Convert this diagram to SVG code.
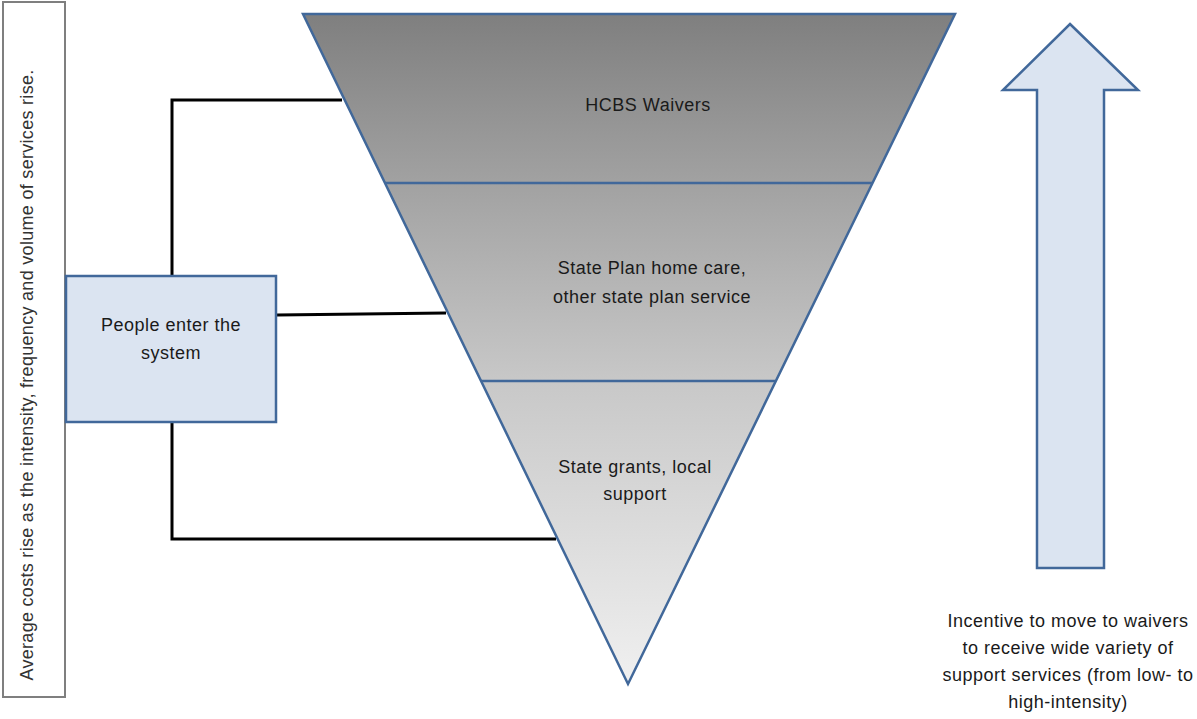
<svg xmlns="http://www.w3.org/2000/svg" width="1197" height="719" viewBox="0 0 1197 719">
<defs>
<linearGradient id="tri" gradientUnits="userSpaceOnUse" x1="0" y1="14" x2="0" y2="684">
<stop offset="0" stop-color="#7f7f7f"/>
<stop offset="0.3" stop-color="#a8a8a8"/>
<stop offset="0.55" stop-color="#c8c8c8"/>
<stop offset="1" stop-color="#f0f0f0"/>
</linearGradient>
</defs>
<style>
.t{font-family:"Liberation Sans",Arial,sans-serif;font-size:18px;letter-spacing:0.5px;fill:#1a1a1a;text-anchor:middle}
.conn{fill:none;stroke:#000;stroke-width:3}
.blue{stroke:#41689a;stroke-width:2.5}
</style>
<rect width="1197" height="719" fill="#fff"/>
<g id="cost-note">
<rect x="3" y="2" width="62" height="695" fill="#fff" stroke="#7f7f7f" stroke-width="2"/>
<text class="t" style="fill:#333;letter-spacing:0.3px" transform="translate(33,375) rotate(-90)">Average costs rise as the intensity, frequency and volume of services rise.</text>
</g>
<g id="connectors">
<polyline class="conn" points="172,275 172,100 342,100"/>
<line class="conn" x1="277" y1="315" x2="446" y2="313"/>
<polyline class="conn" points="172,422 172,539 556,539"/>
</g>
<g id="funnel">
<polygon points="303,14 955,14 628,684" fill="url(#tri)" class="blue" stroke-linejoin="miter"/>
<line class="blue" x1="385" y1="183" x2="872" y2="183"/>
<line class="blue" x1="481" y1="381" x2="775" y2="381"/>
</g>
<g id="tier-hcbs"><text class="t" x="648" y="111">HCBS Waivers</text></g>
<g id="tier-stateplan"><text class="t" x="652" y="274">State Plan home care,</text><text class="t" x="652" y="303">other state plan service</text></g>
<g id="tier-grants"><text class="t" x="635" y="473">State grants, local</text><text class="t" x="635" y="500">support</text></g>
<g id="people">
<rect x="66" y="276" width="210" height="146" fill="#dbe4f1" class="blue"/>
<text class="t" x="171" y="331">People enter the</text><text class="t" x="171" y="359">system</text>
</g>
<g id="incentive-arrow">
<polygon points="1070,24 1138,90 1104,90 1104,568 1037,568 1037,90 1003,90" fill="#dbe4f1" class="blue"/>
</g>
<g id="incentive-text">
<text class="t" x="1068" y="627">Incentive to move to waivers</text>
<text class="t" x="1068" y="654">to receive wide variety of</text>
<text class="t" x="1068" y="681">support services (from low- to</text>
<text class="t" x="1068" y="708">high-intensity)</text>
</g>
</svg>
